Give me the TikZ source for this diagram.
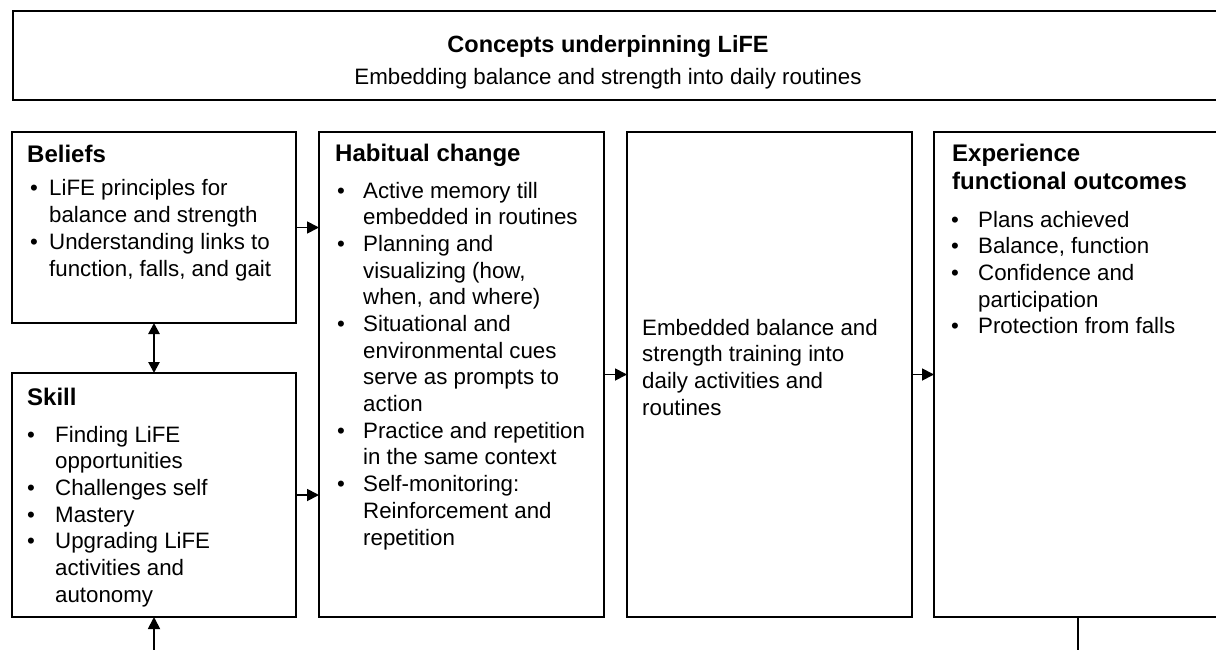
\documentclass[tikz,border=0pt]{standalone}
\usepackage{fontspec}
\setmainfont{Liberation Sans}
\usetikzlibrary{arrows.meta}
\newlength\bcol
\newcommand\bitem[1]{\makebox[\bcol][l]{•}#1}
\newcommand\bcont[1]{\hspace*{\bcol}#1}
% a top-aligned block of lines, its baseline on the first line
\newcommand\textlines[2]{\parbox[t]{300pt}{\raggedright\fontsize{22.3}{26.7}\selectfont\setlength\bcol{#1}#2}}
\begin{document}
\begin{tikzpicture}[x=1pt,y=-1pt,
  box/.style={draw=black,line width=1.8pt,rectangle,inner sep=0pt,outer sep=0pt},
  ttl/.style={anchor=base west,inner sep=0pt,font=\fontsize{24}{28}\selectfont\bfseries},
  lst/.style={anchor=base west,inner sep=0pt},
  link/.style={line width=1.8pt,-{Triangle[length=12pt,width=12pt]}},
  dlink/.style={line width=2.6pt,{Triangle[length=11pt,width=11pt]}-{Triangle[length=11pt,width=11pt]}},
]
\useasboundingbox (0,0) rectangle (1216,650);
\clip (0,0) rectangle (1216,650);
\fill[white] (0,0) rectangle (1216,650);

% header
\node[box,minimum width=1212pt,minimum height=89pt] (head) at (619,55.5) {};
\node[inner sep=0pt,anchor=base,font=\fontsize{23.5}{27}\selectfont\bfseries] (htitle) at (608,53) {Concepts underpinning LiFE};
\node[inner sep=0pt,anchor=base,font=\fontsize{22.3}{26.7}\selectfont] (hsub) at (608,85) {Embedding balance and strength into daily routines};

% boxes
\node[box,minimum width=284pt,minimum height=191pt] (beliefs) at (154,227.5) {};
\node[box,minimum width=284pt,minimum height=244pt] (skill) at (154,495) {};
\node[box,minimum width=285pt,minimum height=485pt] (habit) at (461.5,374.5) {};
\node[box,minimum width=285pt,minimum height=485pt] (embed) at (769.5,374.5) {};
\node[box,minimum width=288pt,minimum height=485pt] (exper) at (1078,374.5) {};

% beliefs
\node[ttl] (tbel) at (27,163) {Beliefs};
\node[lst] (lbel) at (30,196) {\textlines{19pt}{%
  \bitem{LiFE principles for}\\
  \bcont{balance and strength}\\
  \bitem{Understanding links to}\\
  \bcont{function, falls, and gait}}};

% skill
\node[ttl] (tski) at (27,405) {Skill};
\node[lst] (lski) at (27,442) {\textlines{28pt}{%
  \bitem{Finding LiFE}\\
  \bcont{opportunities}\\
  \bitem{Challenges self}\\
  \bitem{Mastery}\\
  \bitem{Upgrading LiFE}\\
  \bcont{activities and}\\
  \bcont{autonomy}}};

% habitual change
\node[ttl] (thab) at (335,162) {Habitual change};
\node[lst] (lhab) at (337,198) {\textlines{26pt}{%
  \bitem{Active memory till}\\
  \bcont{embedded in routines}\\
  \bitem{Planning and}\\
  \bcont{visualizing (how,}\\
  \bcont{when, and where)}\\
  \bitem{Situational and}\\
  \bcont{environmental cues}\\
  \bcont{serve as prompts to}\\
  \bcont{action}\\
  \bitem{Practice and repetition}\\
  \bcont{in the same context}\\
  \bitem{Self-monitoring:}\\
  \bcont{Reinforcement and}\\
  \bcont{repetition}}};

% embedded training
\node[lst] (lemb) at (642,335) {\textlines{0pt}{Embedded balance and\\
  strength training into\\
  daily activities and\\
  routines}};

% outcomes
\node[ttl] (texp) at (952,162) {\parbox[t]{260pt}{\raggedright Experience\\functional outcomes}};
\node[lst] (lexp) at (951,227) {\textlines{27pt}{%
  \bitem{Plans achieved}\\
  \bitem{Balance, function}\\
  \bitem{Confidence and}\\
  \bcont{participation}\\
  \bitem{Protection from falls}}};

% connectors
\coordinate (inlet) at (154,660);
\coordinate (outlet) at (1078,660);
\draw[link] (beliefs.east) -- (beliefs.east -| habit.west);
\draw[link] (skill.east) -- (skill.east -| habit.west);
\draw[link] (habit.east) -- (embed.west);
\draw[link] (embed.east) -- (exper.west);
\draw[dlink] (beliefs.south) -- (skill.north);
\draw[link] (inlet) -- (skill.south);
\draw[line width=1.8pt] (exper.south) -- (outlet);
\end{tikzpicture}
\end{document}
